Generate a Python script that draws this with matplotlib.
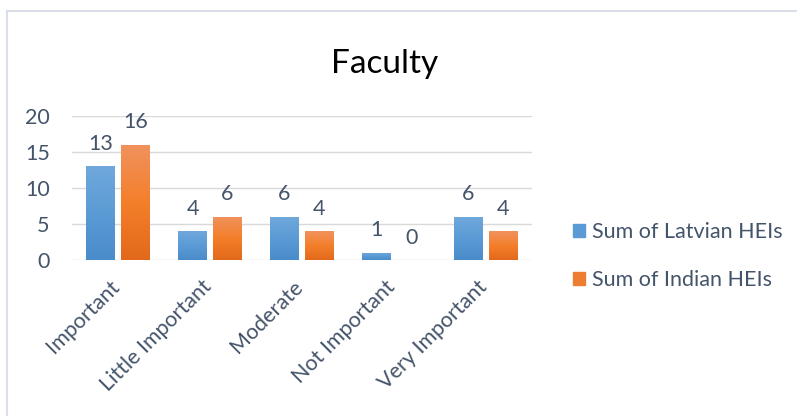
import matplotlib
matplotlib.use("Agg")
import matplotlib.pyplot as plt
import numpy as np
from matplotlib.colors import LinearSegmentedColormap
from matplotlib.patches import Rectangle
from matplotlib.lines import Line2D
from matplotlib.transforms import ScaledTranslation

categories = ["Important", "Little Important", "Moderate", "Not Important", "Very Important"]
latvian = [13, 4, 6, 1, 6]
indian = [16, 6, 4, 0, 4]
series_names = ["Sum of Latvian HEIs", "Sum of Indian HEIs"]
yticks = [0, 5, 10, 15, 20]

plt.rcParams["font.family"] = ["Lato", "DejaVu Sans"]
TEXT = "#44546A"
FS = 15.5
fig = plt.figure(figsize=(7.97, 4.16), dpi=100)
ax = fig.add_axes([72/797, (416-260)/416, 460/797, 144/416])

x = np.arange(len(categories)) + 0.5
w = 0.315
gap = 0.065
b1 = ax.bar(x - (w + gap)/2, latvian, w, color="#5B9BD5", zorder=2)
b2 = ax.bar(x + (w + gap)/2, indian, w, color="#ED7D31", zorder=2)

cm_blue = LinearSegmentedColormap.from_list("b", ["#4A8BCB", "#5B9BD5", "#6FA8DC"])
cm_orange = LinearSegmentedColormap.from_list("o", ["#E2691B", "#F47F2A", "#F0925E"])
grad = np.linspace(0, 1, 100).reshape(-1, 1)
for bars, cm in ((b1, cm_blue), (b2, cm_orange)):
    for r in bars:
        h = r.get_height()
        if h <= 0:
            continue
        x0 = r.get_x()
        im = ax.imshow(grad, cmap=cm, origin="lower", aspect="auto",
                       extent=(x0, x0 + r.get_width(), 0, h), zorder=2.5)
        im.set_clip_path(r)

for bars, vals in ((b1, latvian), (b2, indian)):
    for r, v in zip(bars, vals):
        ax.annotate(str(v), (r.get_x() + r.get_width()/2, v), xytext=(0, 9),
                    textcoords="offset points", ha="center", va="bottom",
                    fontsize=FS, color=TEXT)

ax.set_xlim(0, len(categories))
ax.set_ylim(0, 20)
ax.set_yticks(yticks)
ax.set_yticklabels([str(t) for t in yticks], fontsize=FS, color=TEXT)
ax.set_xticks(x)
ax.set_xticklabels(categories, rotation=45, ha="right", rotation_mode="anchor",
                   fontsize=FS, color=TEXT)
ax.tick_params(axis="x", length=0, pad=12)
ax.tick_params(axis="y", length=0, pad=16)
shift = ScaledTranslation(-9/100, 0, fig.dpi_scale_trans)
for lab in ax.get_xticklabels():
    lab.set_transform(lab.get_transform() + shift)
ax.grid(axis="y", color="#D9D9D9", lw=1, zorder=0)
ax.set_axisbelow(True)
for s in ax.spines.values():
    s.set_visible(False)

fig.text(385/797, 1 - 64/416, "Faculty", ha="center", va="center", fontsize=24, color="black")

handles = [Rectangle((0, 0), 1, 1, color="#5B9BD5"), Rectangle((0, 0), 1, 1, color="#ED7D31")]
leg = fig.legend(handles, series_names, loc="center left", bbox_to_anchor=(554/797, 1 - 256/416),
                 frameon=False, fontsize=FS, labelcolor=TEXT, handlelength=0.55, handleheight=0.55,
                 handletextpad=0.3, labelspacing=1.3)

fig.add_artist(Line2D([7/797, 7/797], [0, 1 - 11/416], color="#D9DEE8", lw=1.5, transform=fig.transFigure))
fig.add_artist(Line2D([7/797, 797/797], [1 - 11/416, 1 - 11/416], color="#D9DEE8", lw=1.5, transform=fig.transFigure))

fig.savefig("out.png", dpi=100)
